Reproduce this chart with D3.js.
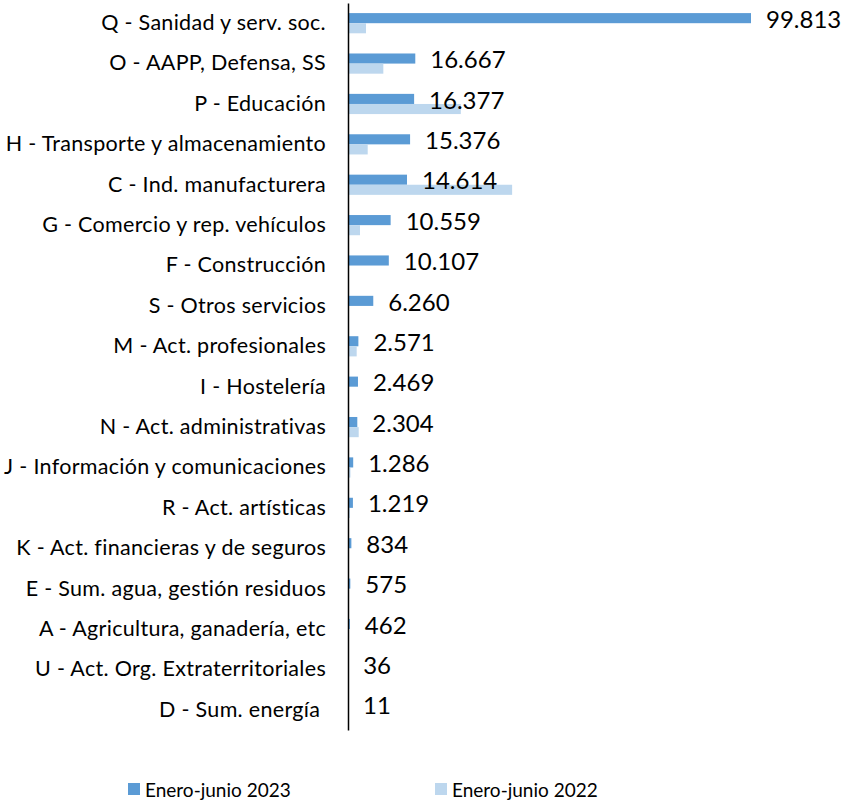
<!DOCTYPE html>
<html>
<head>
<meta charset="utf-8">
<script src="https://cdn.jsdelivr.net/npm/d3@7"></script>
<style>
  body { margin: 0; background: #fff; }
  svg { display: block; }
  text { font-family: Lato, "Open Sans", sans-serif; fill: #000; }
</style>
</head>
<body>
<div id="chart"></div>
<script>
const categories = [
  "Q - Sanidad y serv. soc.",
  "O - AAPP, Defensa, SS",
  "P - Educación",
  "H - Transporte y almacenamiento",
  "C - Ind. manufacturera",
  "G - Comercio y rep. vehículos",
  "F - Construcción",
  "S - Otros servicios",
  "M - Act. profesionales",
  "I - Hostelería",
  "N - Act. administrativas",
  "J - Información y comunicaciones",
  "R - Act. artísticas",
  "K - Act. financieras y de seguros",
  "E - Sum. agua, gestión residuos",
  "A - Agricultura, ganadería, etc",
  "U - Act. Org. Extraterritoriales",
  "D - Sum. energía "
];
const values2023 = [99813, 16667, 16377, 15376, 14614, 10559, 10107, 6260, 2571, 2469, 2304, 1286, 1219, 834, 575, 462, 36, 11];
const values2022 = [4460, 8750, 27940, 4880, 40650, 2970, 0, 0, 2150, 0, 2650, 600, 450, 0, 0, 0, 0, 0];
const seriesNames = ["Enero-junio 2023", "Enero-junio 2022"];
const colors = ["#5b9bd5", "#bdd7ee"];

const w = 843, h = 800;
const x0 = 348;

const svg = d3.select("#chart").append("svg")
  .attr("width", w).attr("height", h);

const xScale = d3.scaleLinear()
  .domain([0, 99813])
  .range([x0, 751]);

const yScale = d3.scaleBand()
  .domain(categories)
  .range([3, 730])
  .paddingInner(0.5)
  .paddingOuter(0.25);

const inner = d3.scaleBand()
  .domain([0, 1])
  .range([0, yScale.bandwidth()]);

const rows = categories.map((c, i) => ({ cat: c, v: [values2023[i], values2022[i]] }));

const groups = svg.selectAll("g.row")
  .data(rows)
  .enter().append("g")
  .attr("class", "row")
  .attr("transform", d => "translate(0," + yScale(d.cat) + ")");

groups.selectAll("rect")
  .data(d => d.v.map((v, k) => ({ v, k })))
  .enter().append("rect")
  .attr("x", x0)
  .attr("y", d => inner(d.k))
  .attr("width", d => xScale(d.v) - x0)
  .attr("height", inner.bandwidth())
  .attr("fill", d => colors[d.k]);

// value labels for 2023
groups.append("text")
  .attr("x", d => xScale(d.v[0]) + 15)
  .attr("y", inner(0) + inner.bandwidth() / 2 + 1)
  .attr("dy", "0.36em")
  .style("font-size", "24px")
  .text(d => d3.format(",")(d.v[0]).replace(/,/g, "."));

// category axis
const yAxis = d3.axisLeft(yScale).tickSize(0).tickPadding(22);
const ax = svg.append("g")
  .attr("transform", "translate(" + x0 + ",0)")
  .call(yAxis);
ax.select(".domain").attr("stroke", "#000").attr("stroke-width", 1.5);
ax.selectAll("text")
  .style("font-size", "21.5px")
  .style("letter-spacing", "0.3px")
  .style("white-space", "pre")
  .attr("fill", "#000");

// legend
const legend = svg.append("g");
const legX = [128, 435];
seriesNames.forEach((s, k) => {
  legend.append("rect")
    .attr("x", legX[k]).attr("y", 783)
    .attr("width", 12).attr("height", 12)
    .attr("fill", colors[k]);
  legend.append("text")
    .attr("x", legX[k] + 17).attr("y", 790)
    .attr("dy", "0.36em")
    .style("font-size", "19px")
    .text(s);
});
</script>
</body>
</html>
